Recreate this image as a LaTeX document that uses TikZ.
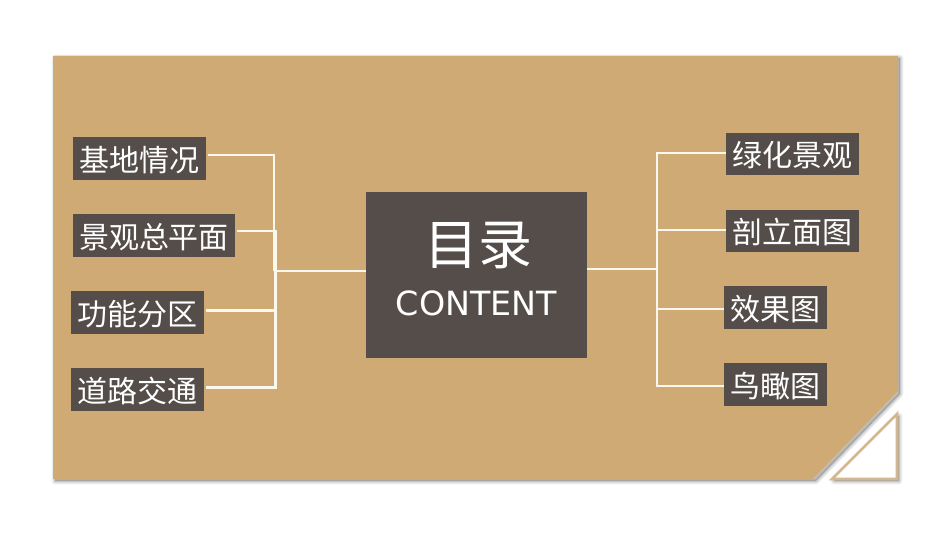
\documentclass[tikz,border=0pt]{standalone}
\usepackage{fontspec}
\setmainfont{DejaVu Sans}
\newfontfamily\cjk{Noto Sans CJK SC}[Scale=1]
\usetikzlibrary{calc}
\definecolor{sheet}{HTML}{D0AA74}
\definecolor{boxc}{HTML}{544D4A}
\definecolor{linec}{HTML}{FDF8EE}
\definecolor{tri}{HTML}{D3B78F}
\tikzset{
 labelbox/.style={fill=boxc,text=white,inner sep=0pt,minimum height=32pt,text height=19.3pt,text depth=0pt,font=\cjk\fontsize{22.5}{24}\selectfont,anchor=center},
 conn/.style={draw=linec,line width=1.85pt},
 shadowlay/.style={fill=black,fill opacity=0.05,draw=black,draw opacity=0.05,line join=round}
}
\begin{document}
\begin{tikzpicture}[x=0.75pt,y=-0.75pt]
\useasboundingbox (0,0) rectangle (950,535);
\fill[white] (0,0) rectangle (950,535);
% sheet shadow
\foreach \w in {5,3.75,2.5,1.25}{
 \path[shadowlay,line width=\w pt] (55,58) -- (900,58) -- (900,394) -- (816,481) -- (55,481) -- cycle;
 \path[shadowlay,line width=\w pt] (834,481) -- (899,416) -- (899,481) -- cycle;
}
% sheet
\fill[sheet] (53,56) -- (898,56) -- (898,391) -- (813,479) -- (53,479) -- cycle;
% folded corner
\draw[tri,fill=white,line width=2pt,line join=miter] (832,479) -- (897,414) -- (897,479) -- cycle;
% boxes
\node[labelbox,minimum width=99.75pt] (a) at (139.5,158.5) {基地情况};
\node[labelbox,minimum width=121.5pt] (b) at (154,235.5) {景观总平面};
\node[labelbox,minimum width=99.75pt] (c) at (137.5,312.5) {功能分区};
\node[labelbox,minimum width=99.75pt] (d) at (137.5,389.5) {道路交通};
\node[labelbox,minimum width=99.75pt] (e) at (792.5,154) {绿化景观};
\node[labelbox,minimum width=99.75pt] (f) at (792.5,231) {剖立面图};
\node[labelbox,minimum width=77.25pt] (g) at (775.5,307.5) {效果图};
\node[labelbox,minimum width=77.25pt] (h) at (775.5,384.5) {鸟瞰图};
\node[fill=boxc,minimum width=165.75pt,minimum height=124.5pt,inner sep=0pt] (m) at (476.5,275) {};
\node[text=white,inner sep=0pt,font=\cjk\fontsize{40.5}{42}\selectfont] (t1) at (478,245) {目录};
\node[text=white,inner sep=0pt,font=\fontsize{25}{27}\selectfont] (t2) at (476.5,303) {CONTENT};
% hubs
\coordinate (hl) at (274,271);
\coordinate (hl2) at (275.5,271);
\coordinate (hr) at (657,269);
\coordinate (hlend) at (344,271);
% connectors
\draw[conn] ([xshift=1pt,yshift=2.6pt]a.east) -| (hl);
\draw[conn] ([xshift=1pt,yshift=3.4pt]b.east) -| (hl2);
\draw[conn] ([xshift=1pt,yshift=1.5pt]c.east) -| (hl2);
\draw[conn] ([xshift=1pt,yshift=1.5pt]d.east) -| (hl2);
\draw[conn,line width=1.4pt] (hl) -- (hl -| m.west);
\draw[conn,line width=2.2pt] (hl) -- (hlend);
\draw[conn] (m.east |- hr) -- (hr);
\draw[conn] ([yshift=0.75pt]e.west) -| (hr);
\draw[conn] ([yshift=0.75pt]f.west) -| (hr);
\draw[conn] ([yshift=-1.1pt]g.west) -| (hr);
\draw[conn] ([yshift=-1.1pt]h.west) -| (hr);
\end{tikzpicture}
\end{document}
